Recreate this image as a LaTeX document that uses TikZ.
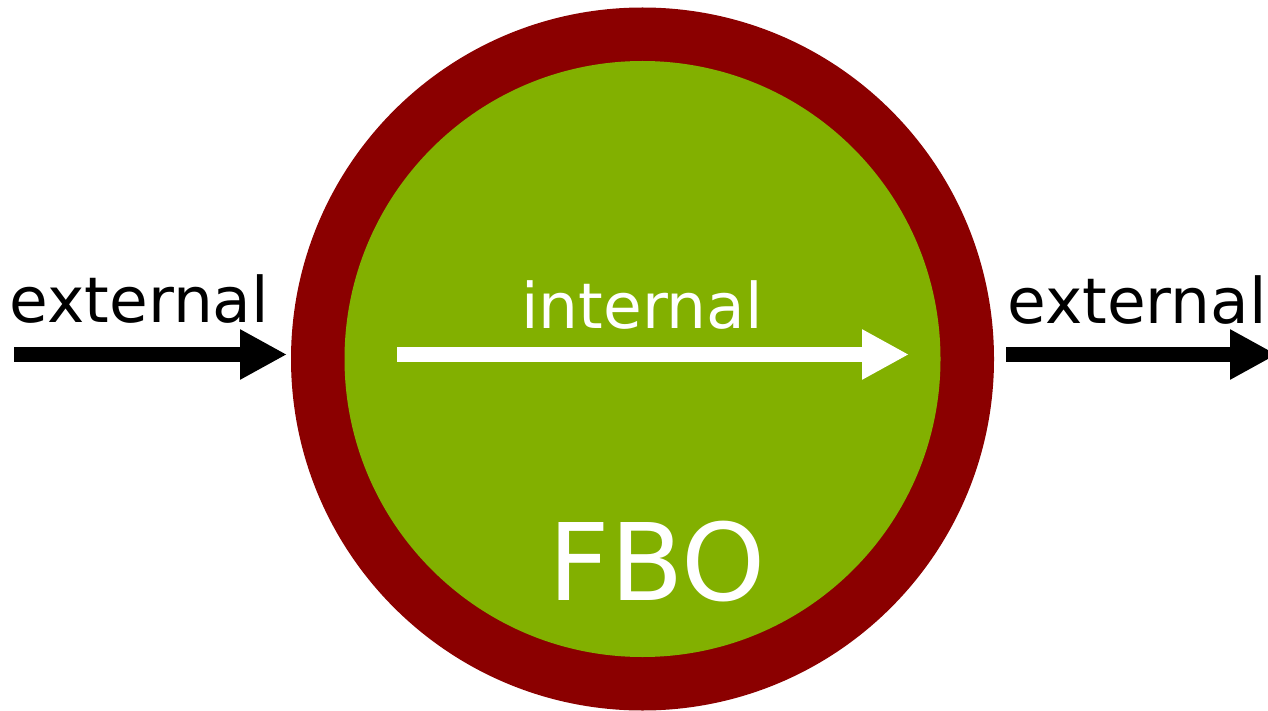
\documentclass[tikz,border=0pt]{standalone}
\usepackage{fontspec}
\setmainfont{DejaVu Sans}
\usetikzlibrary{arrows.meta}
\definecolor{fborim}{RGB}{139,0,0}
\definecolor{fbogreen}{RGB}{130,176,0}
\tikzset{
  flow/.style={line width=15pt, -{Triangle[length=47pt,width=47pt]}},
  flowlabel/.style={font=\fontsize{63}{63}\selectfont, anchor=base, inner sep=0pt}
}

\begin{document}
\begin{tikzpicture}[x=1pt,y=-1pt]
	%%%%% START %%%%%
	\useasboundingbox (0,0) rectangle (1268,711);
	
	\coordinate (fbo) at (642.5,359);
	\fill[fborim] (fbo) circle (351.5pt);
	\fill[fbogreen] (fbo) circle (298pt);
	
	\node[flowlabel] (extin) at (139.5,322) {external};
	\node[flowlabel, white] (intlabel) at (642,328) {internal};
	\node[flowlabel] (extout) at (1137,323) {external};
	\node[font=\fontsize{107}{107}\selectfont, white, anchor=base, inner sep=0pt] (fboname) at (657.5,600) {FBO};
	
	\coordinate (inA) at (14,354.5);
	\coordinate (inB) at (287,354.5);
	\coordinate (midA) at (397,354.5);
	\coordinate (midB) at (909,354.5);
	\coordinate (outA) at (1006,354.5);
	\coordinate (outB) at (1277,354.5);
	
	\draw[flow] (inA) -- (inB);
	\draw[flow, white] (midA) -- (midB);
	\draw[flow] (outA) -- (outB);
	%%%%% END %%%%%
\end{tikzpicture}
\end{document}
